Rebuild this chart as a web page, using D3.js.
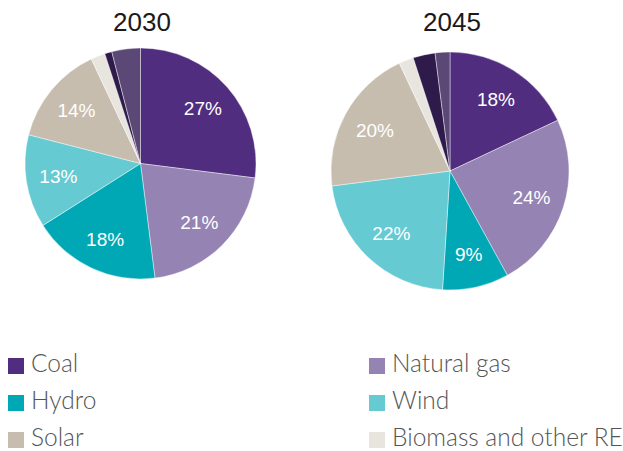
<!DOCTYPE html>
<html>
<head>
<meta charset="utf-8">
<script src="https://cdn.jsdelivr.net/npm/d3@7"></script>
<style>
  body { margin: 0; background: #fff; }
</style>
</head>
<body>
<div id="viz"></div>
<script>
// generation mix shares, clockwise from 12 o'clock
const sources = ["Coal", "Natural gas", "Hydro", "Wind", "Solar", "Biomass and other RE", "Other fossil", "Other"];
const share2030 = [27, 21, 18, 13, 14, 2, 1, 4];
const share2045 = [18, 24, 9, 22, 20, 2, 3, 2];
const years = ["2030", "2045"];
const legendItems = ["Coal", "Natural gas", "Hydro", "Wind", "Solar", "Biomass and other RE"];

const width = 623, height = 451;

const color = d3.scaleOrdinal()
  .domain(sources)
  .range(["#512d80", "#9583b3", "#00a8b5", "#66cad3", "#c7bdaf", "#e8e5df", "#2e1a4b", "#5b4877"]);

const svg = d3.select("#viz")
  .append("svg")
  .attr("width", width)
  .attr("height", height);

// one pie per year
const pies = [
  { year: years[0], values: share2030, cx: 140.5, cy: 163.5, r: 115.5, tx: 142, ty: 31 },
  { year: years[1], values: share2045, cx: 450, cy: 171, r: 119, tx: 452, ty: 31 }
];

const pie = d3.pie().sort(null).value(d => d.v);

pies.forEach(p => {
  const data = pie(sources.map((s, i) => ({ s: s, v: p.values[i] })));
  const arc = d3.arc().innerRadius(0).outerRadius(p.r);
  const labelArc = d3.arc().innerRadius(p.r * 0.72).outerRadius(p.r * 0.72);

  svg.append("text")
    .attr("x", p.tx)
    .attr("y", p.ty)
    .attr("text-anchor", "middle")
    .style("font-family", "'Liberation Sans', Arial, sans-serif")
    .style("font-weight", "normal")
    .style("font-size", "26px")
    .style("fill", "#1a1a1a")
    .text(p.year);

  const g = svg.append("g")
    .attr("transform", `translate(${p.cx},${p.cy})`);

  g.selectAll("path.slice")
    .data(data)
    .enter()
    .append("path")
    .attr("class", "slice")
    .attr("d", arc)
    .style("fill", d => color(d.data.s))
    .style("stroke", "#fff")
    .style("stroke-width", 0.6)
    .style("stroke-opacity", 0.7);

  // only the big slices get a percent label
  g.selectAll("text.pct")
    .data(data.filter(d => d.data.v >= 5))
    .enter()
    .append("text")
    .attr("class", "pct")
    .attr("transform", d => `translate(${labelArc.centroid(d)})`)
    .attr("text-anchor", "middle")
    .attr("dy", "0.36em")
    .style("font-family", "'Liberation Sans', Arial, sans-serif")
    .style("font-size", "19px")
    .style("fill", "#fff")
    .text(d => d.data.v + "%");
});

// legend, two columns
const legend = svg.append("g");

const item = legend.selectAll("g.item")
  .data(legendItems)
  .enter()
  .append("g")
  .attr("class", "item")
  .attr("transform", (d, i) => `translate(${i % 2 === 0 ? 8 : 369},${358 + Math.floor(i / 2) * 37})`);

item.append("rect")
  .attr("width", 16)
  .attr("height", 16)
  .style("fill", d => color(d));

item.append("text")
  .attr("x", 23)
  .attr("y", 14)
  .style("font-family", "Lato, 'Open Sans', sans-serif")
  .style("font-weight", 300)
  .style("font-size", "24.5px")
  .style("fill", "#555")
  .text(d => d);
</script>
</body>
</html>
